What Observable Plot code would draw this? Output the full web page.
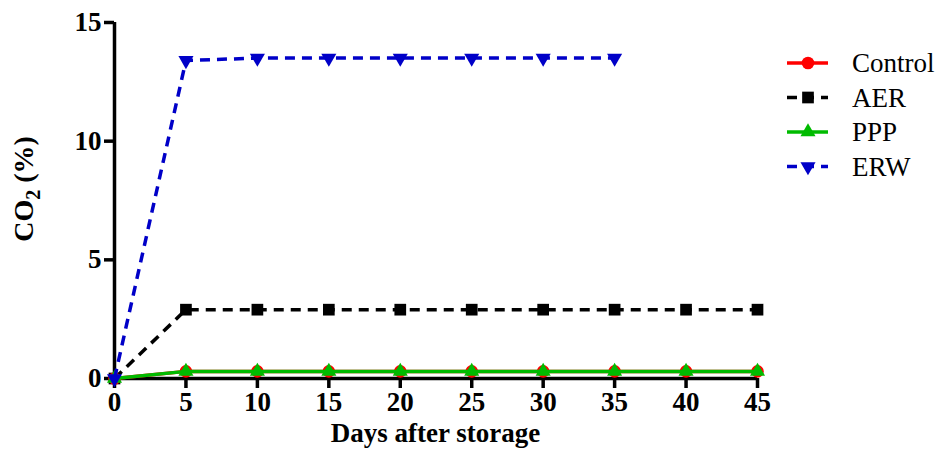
<!DOCTYPE html>
<html>
<head>
<meta charset="utf-8">
<script src="https://cdn.jsdelivr.net/npm/d3@7"></script>
<script src="https://cdn.jsdelivr.net/npm/@observablehq/plot@0.6"></script>
<style>
  html, body { margin: 0; padding: 0; background: #fff; }
  #wrap { position: relative; width: 938px; height: 450px; overflow: hidden; }
  #legend { position: absolute; left: 0; top: 0; }
</style>
</head>
<body>
<div id="wrap"></div>
<script>
// ---- data ----
const days = [0, 5, 10, 15, 20, 25, 30, 35, 40, 45];
const controlValues = [0, 0.3, 0.3, 0.3, 0.3, 0.3, 0.3, 0.3, 0.3, 0.3];
const aerValues     = [0, 2.9, 2.9, 2.9, 2.9, 2.9, 2.9, 2.9, 2.9, 2.9];
const pppValues     = [0, 0.3, 0.3, 0.3, 0.3, 0.3, 0.3, 0.3, 0.3, 0.3];
const erwDays       = [0, 5, 10, 15, 20, 25, 30, 35];
const erwValues     = [0, 13.4, 13.5, 13.5, 13.5, 13.5, 13.5, 13.5];
const xTicks = [0, 5, 10, 15, 20, 25, 30, 35, 40, 45];
const yTicks = [0, 5, 10, 15];
const seriesNames = ["Control", "AER", "PPP", "ERW"];
const xLabel = "Days after storage";

// ---- styles ----
const styles = {
  Control: {color: "#ff0000", dash: null, symbol: "circle", r: 6.3, rotate: 0},
  AER:     {color: "#000000", dash: "10,7", symbol: "square", r: 6.6, rotate: 0},
  PPP:     {color: "#00bb00", dash: null, symbol: "triangle", r: 5.6, rotate: 0},
  ERW:     {color: "#0000c8", dash: "10,7", symbol: "triangle", r: 5.6, rotate: 180}
};

const toRows = (name, xs, ys) => xs.map((d, i) => ({series: name, day: d, value: ys[i]}));
const data = {
  Control: toRows("Control", days, controlValues),
  AER: toRows("AER", days, aerValues),
  PPP: toRows("PPP", days, pppValues),
  ERW: toRows("ERW", erwDays, erwValues)
};

const drawOrder = ["AER", "Control", "PPP", "ERW"];
const LW = 3.5;
const seriesMarks = drawOrder.flatMap(name => {
  const s = styles[name];
  return [
    Plot.line(data[name], {x: "day", y: "value", stroke: s.color, strokeWidth: LW,
      strokeDasharray: s.dash, strokeLinecap: "butt", strokeLinejoin: "round"}),
    Plot.dot(data[name], {x: "day", y: "value", symbol: () => s.symbol, fill: s.color,
      stroke: "none", r: s.r, rotate: s.rotate})
  ];
});

const W = 938, H = 450;
const mL = 114, mR = 181, mT = 22, mB = 72;

const chart = Plot.plot({
  width: W, height: H,
  marginLeft: mL, marginRight: mR, marginTop: mT, marginBottom: mB,
  style: {fontFamily: "'Liberation Serif', 'DejaVu Serif', serif", fontSize: "27px", fontWeight: "bold", background: "#fff", color: "#000"},
  x: {domain: [0, 45]},
  y: {domain: [0, 15]},
  marks: [
    Plot.axisX({ticks: xTicks, tickSize: 10, tickPadding: 3, strokeWidth: LW, label: null, tickFormat: d => String(d), fontSize: 27, fontWeight: "bold"}),
    Plot.axisY({ticks: yTicks, tickSize: 10, tickPadding: 3, strokeWidth: LW, label: null, tickFormat: d => String(d), fontSize: 27, fontWeight: "bold"}),
    Plot.ruleY([0], {x1: 0, x2: 45, strokeWidth: LW}),
    Plot.ruleX([0], {y1: 0, y2: 15, strokeWidth: LW}),
    ...seriesMarks
  ]
});

const wrap = document.getElementById("wrap");
wrap.appendChild(chart);

// axis titles
const svg = d3.select(chart);
svg.append("text")
  .attr("x", mL + (W - mL - mR) / 2)
  .attr("y", 442)
  .attr("text-anchor", "middle")
  .attr("font-family", "'Liberation Serif', serif")
  .attr("font-size", 27)
  .attr("font-weight", "bold")
  .text(xLabel);

const yl = svg.append("text")
  .attr("transform", `translate(33, 189) rotate(-90)`)
  .attr("text-anchor", "middle")
  .attr("font-family", "'Liberation Serif', serif")
  .attr("font-size", 28)
  .attr("font-weight", "bold");
yl.append("tspan").text("CO");
yl.append("tspan").attr("font-size", 20).attr("dy", 7).text("2");
yl.append("tspan").attr("dy", -7).text(" (%)");

// legend
const leg = d3.select(wrap).append("svg")
  .attr("id", "legend")
  .attr("width", W).attr("height", H)
  .style("pointer-events", "none");
const rowY0 = 63, rowStep = 34.5;
seriesNames.forEach((name, i) => {
  const s = styles[name];
  const y = rowY0 + i * rowStep;
  leg.append("line")
    .attr("x1", 787).attr("x2", 828).attr("y1", y).attr("y2", y)
    .attr("stroke", s.color).attr("stroke-width", LW)
    .attr("stroke-dasharray", s.dash);
  const sym = {circle: d3.symbolCircle, square: d3.symbolSquare, triangle: d3.symbolTriangle}[s.symbol];
  leg.append("path")
    .attr("d", d3.symbol(sym, Math.PI * s.r * s.r)())
    .attr("transform", `translate(808,${y}) rotate(${s.rotate})`)
    .attr("fill", s.color);
  leg.append("text")
    .attr("x", 852).attr("y", y).attr("dy", "0.35em")
    .attr("font-family", "'Liberation Serif', serif")
    .attr("font-size", 27)
    .text(name);
});
</script>
</body>
</html>
